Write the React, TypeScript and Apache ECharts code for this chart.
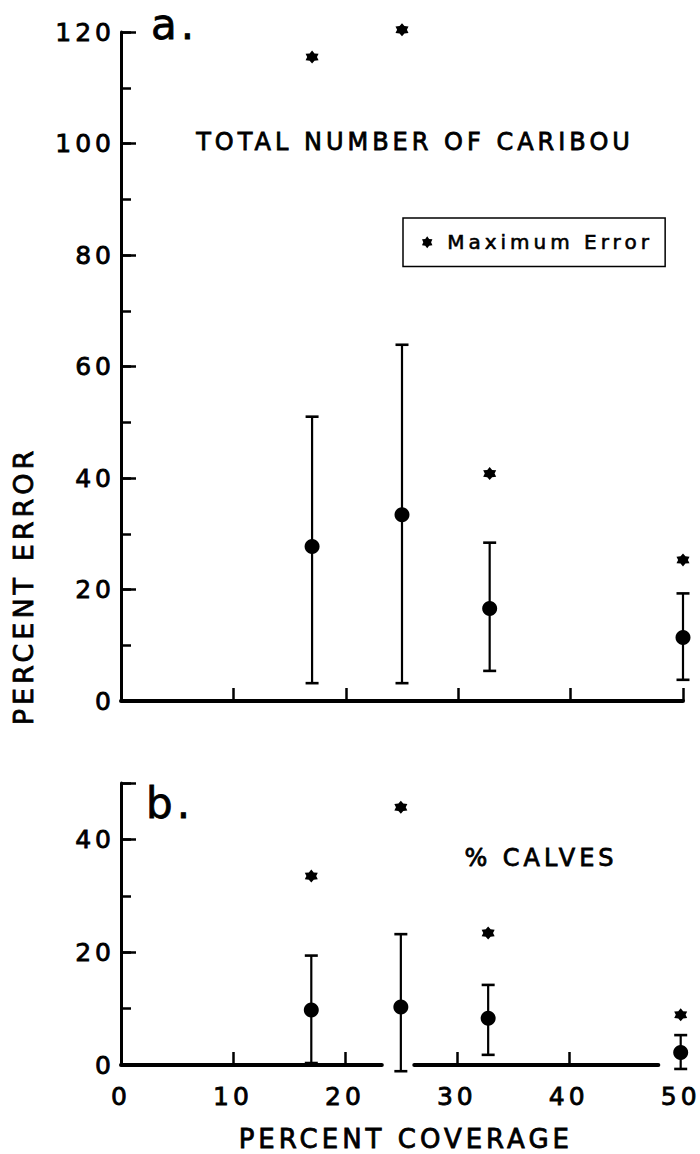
import React, { useEffect, useRef } from "react";
import * as echarts from "echarts";

// ---- data ----
const coverage = [17, 25, 32.8, 50];

// panel a: total number of caribou
const totalMean = [27.7, 33.4, 16.6, 11.4];
const totalLow = [3.2, 3.2, 5.4, 3.8];
const totalHigh = [51.0, 63.9, 28.4, 19.3];
const totalMax = [115.5, 120.4, 40.8, 25.3];

// panel b: % calves
const calvesMean = [9.75, 10.3, 8.3, 2.2];
const calvesLow = [0.35, -1.1, 1.8, -0.7];
const calvesHigh = [19.4, 23.2, 14.2, 5.3];
const calvesMax = [33.5, 45.7, 23.4, 8.9];

// broken x-axis line of panel b (x ranges)
const calvesAxisSegments = [
  [0, 23.3],
  [26.2, 48],
];

const FONT = '"DejaVu Sans", "Liberation Sans", sans-serif';
const ASTERISK =
  "path://M0,-10 L3.25,-5.63 L8.66,-5 L6.5,0 L8.66,5 L3.25,5.63 L0,10 L-3.25,5.63 L-8.66,5 L-6.5,0 L-8.66,-5 L-3.25,-5.63 Z";

const errorBarItem = (params: any, api: any) => {
  const x = api.value(0);
  const lo = api.value(1);
  const hi = api.value(2);
  const top = api.coord([x, hi]);
  const bot = api.coord([x, lo]);
  const half = 6.5;
  return {
    type: "group",
    children: [
      {
        type: "line",
        shape: { x1: top[0], y1: top[1], x2: bot[0], y2: bot[1] },
        style: { stroke: "#000", lineWidth: 2.2 },
      },
      {
        type: "line",
        shape: { x1: top[0] - half, y1: top[1], x2: top[0] + half, y2: top[1] },
        style: { stroke: "#000", lineWidth: 2.6 },
      },
      {
        type: "line",
        shape: { x1: bot[0] - half, y1: bot[1], x2: bot[0] + half, y2: bot[1] },
        style: { stroke: "#000", lineWidth: 2.6 },
      },
    ],
  };
};

const segmentItem = (params: any, api: any) => {
  const a = api.coord([api.value(0), 0]);
  const b = api.coord([api.value(1), 0]);
  return {
    type: "line",
    shape: { x1: a[0], y1: a[1], x2: b[0], y2: b[1] },
    style: { stroke: "#000", lineWidth: 4, lineCap: "round" },
  };
};

const tickStyle = { color: "#000", width: 2.5 };
const THICK = { textBorderColor: "#000", textBorderWidth: 0.8 };
const labelStyle = { color: "#000", fontSize: 25, fontFamily: FONT, ...THICK };
const gText = (extra: any) => ({ fill: "#000", fontFamily: FONT, stroke: "#000", lineWidth: 0.8, ...extra });

export default function App() {
  const ref = useRef<HTMLDivElement>(null);

  useEffect(() => {
    if (!ref.current) return;
    const chart = echarts.init(ref.current, undefined, { renderer: "svg" });

    const option: any = {
      animation: false,
      backgroundColor: "#fff",
      textStyle: { fontFamily: FONT, color: "#000" },
      grid: [
        { left: 121, top: 32, width: 562, height: 669 },
        { left: 121, top: 783, width: 562, height: 282 },
      ],
      xAxis: [
        {
          gridIndex: 0,
          type: "value",
          min: 0,
          max: 50,
          interval: 10,
          axisLine: { show: true, lineStyle: { color: "#000", width: 4 } },
          axisTick: { show: true, inside: true, length: 13, lineStyle: tickStyle },
          axisLabel: { show: false },
          splitLine: { show: false },
        },
        {
          gridIndex: 1,
          type: "value",
          min: 0,
          max: 50,
          interval: 10,
          axisLine: { show: false },
          axisTick: {
            show: true,
            inside: true,
            length: 13,
            lineStyle: tickStyle,
            customValues: [10, 20, 30, 40],
          },
          axisLabel: { show: true, margin: 19, ...labelStyle },
          splitLine: { show: false },
          name: "PERCENT COVERAGE",
          nameLocation: "middle",
          nameGap: 61,
          nameTextStyle: { color: "#000", fontSize: 26, fontFamily: FONT, padding: [0, 0, 0, 10], ...THICK },
        },
      ],
      yAxis: [
        {
          gridIndex: 0,
          type: "value",
          position: "left",
          min: 0,
          max: 120,
          interval: 10,
          axisLine: { show: true, lineStyle: { color: "#000", width: 3 } },
          axisTick: { show: true, inside: true, length: 10, lineStyle: tickStyle },
          axisLabel: { show: false },
          splitLine: { show: false },
        },
        {
          gridIndex: 0,
          type: "value",
          position: "left",
          min: 0,
          max: 120,
          interval: 20,
          axisLine: { show: false },
          axisTick: { show: true, inside: true, length: 15, lineStyle: tickStyle },
          axisLabel: { show: true, margin: 6, ...labelStyle },
          splitLine: { show: false },
        },
        {
          gridIndex: 1,
          type: "value",
          position: "left",
          min: 0,
          max: 50,
          interval: 10,
          axisLine: { show: true, lineStyle: { color: "#000", width: 3 } },
          axisTick: { show: true, inside: true, length: 10, lineStyle: tickStyle },
          axisLabel: { show: false },
          splitLine: { show: false },
        },
        {
          gridIndex: 1,
          type: "value",
          position: "left",
          min: 0,
          max: 50,
          interval: 20,
          axisLine: { show: false },
          axisTick: { show: true, inside: true, length: 15, lineStyle: tickStyle },
          axisLabel: {
            show: true,
            margin: 6,
            ...labelStyle,
            formatter: (v: number) => (v % 20 === 0 ? String(v) : ""),
          },
          splitLine: { show: false },
        },
      ],
      legend: {
        data: [{ name: "Maximum Error", icon: ASTERISK }],
        left: 403,
        top: 218,
        orient: "horizontal",
        itemWidth: 30,
        itemHeight: 12,
        symbolKeepAspect: true,
        padding: [14, 64, 14, 19],
        borderColor: "#000",
        borderWidth: 1.5,
        borderRadius: 0,
        selectedMode: false,
        itemStyle: { opacity: 1 },
        textStyle: { color: "#000", fontSize: 20, fontFamily: FONT, textBorderColor: "#000", textBorderWidth: 0.6 },
      },
      series: [
        {
          type: "custom",
          name: "total-range",
          xAxisIndex: 0,
          yAxisIndex: 0,
          renderItem: errorBarItem,
          encode: { x: 0, y: [1, 2] },
          data: coverage.map((c, i) => [c, totalLow[i], totalHigh[i]]),
          clip: false,
          silent: true,
          z: 2,
        },
        {
          type: "scatter",
          name: "total-mean",
          xAxisIndex: 0,
          yAxisIndex: 0,
          symbol: "circle",
          symbolSize: 15,
          itemStyle: { color: "#000", opacity: 1 },
          data: coverage.map((c, i) => [c, totalMean[i]]),
          z: 3,
        },
        {
          type: "scatter",
          name: "Maximum Error",
          xAxisIndex: 0,
          yAxisIndex: 0,
          symbol: ASTERISK,
          symbolSize: 13,
          itemStyle: { color: "#000", opacity: 1 },
          data: coverage.map((c, i) => [c, totalMax[i]]),
          clip: false,
          z: 3,
        },
        {
          type: "custom",
          name: "calves-axis",
          xAxisIndex: 1,
          yAxisIndex: 2,
          renderItem: segmentItem,
          encode: { x: [0, 1] },
          data: calvesAxisSegments,
          clip: false,
          silent: true,
          z: 2,
        },
        {
          type: "custom",
          name: "calves-range",
          xAxisIndex: 1,
          yAxisIndex: 2,
          renderItem: errorBarItem,
          encode: { x: 0, y: [1, 2] },
          data: coverage.map((c, i) => [c, calvesLow[i], calvesHigh[i]]),
          clip: false,
          silent: true,
          z: 2,
        },
        {
          type: "scatter",
          name: "calves-mean",
          xAxisIndex: 1,
          yAxisIndex: 2,
          symbol: "circle",
          symbolSize: 15,
          itemStyle: { color: "#000", opacity: 1 },
          data: coverage.map((c, i) => [c, calvesMean[i]]),
          z: 3,
        },
        {
          type: "scatter",
          name: "Maximum Error",
          xAxisIndex: 1,
          yAxisIndex: 2,
          symbol: ASTERISK,
          symbolSize: 13,
          itemStyle: { color: "#000", opacity: 1 },
          data: coverage.map((c, i) => [c, calvesMax[i]]),
          clip: false,
          z: 3,
        },
      ],
      graphic: [
        {
          type: "text",
          x: 151,
          y: 24,
          style: gText({ text: "a.", fontSize: 42, align: "left", verticalAlign: "middle" }),
        },
        {
          type: "text",
          x: 146,
          y: 803,
          style: gText({ text: "b.", fontSize: 42, align: "left", verticalAlign: "middle" }),
        },
        {
          type: "text",
          x: 415,
          y: 142,
          style: gText({ text: "TOTAL NUMBER OF CARIBOU", fontSize: 24, align: "center", verticalAlign: "middle" }),
        },
        {
          type: "text",
          x: 541,
          y: 858,
          style: gText({ text: "% CALVES", fontSize: 24, align: "center", verticalAlign: "middle" }),
        },
        {
          type: "text",
          x: 23,
          y: 586,
          rotation: Math.PI / 2,
          style: gText({ text: "PERCENT ERROR", fontSize: 27, align: "center", verticalAlign: "middle" }),
        },
      ],
    };

    chart.setOption(option);
    return () => chart.dispose();
  }, []);

  return (
    <>
      <style>{`.caribou-fig text { letter-spacing: 4px; }`}</style>
      <div
        ref={ref}
        className="caribou-fig"
        style={{ position: "absolute", left: 0, top: 0, width: 700, height: 1154, background: "#fff" }}
      />
    </>
  );
}
